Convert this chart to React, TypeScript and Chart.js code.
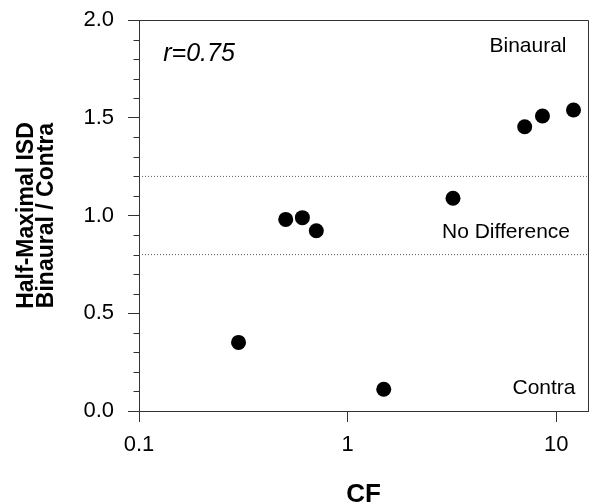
import React, { useEffect, useRef } from 'react';
import { Chart, registerables } from 'chart.js';

Chart.register(...registerables);

// ---- data ----
const cfValues = [0.3, 0.505, 0.607, 0.708, 1.49, 3.2, 7.06, 8.59, 12.1];
const ratioValues = [0.351, 0.98, 0.989, 0.922, 0.111, 1.088, 1.454, 1.509, 1.54];
const xTickValues = [0.1, 1, 10];
const xRange = [0.1, 14.2];
const yRange = [0, 2];
const yMajorStep = 0.5;
const yMinorStep = 0.1;
const thresholdLevels = [1.2, 0.8];
const regionLabels = ['Binaural', 'No Difference', 'Contra'];
const correlationLabel = 'r=0.75';
const xTitle = 'CF';
const yTitleLines = ['Half-Maximal ISD', 'Binaural / Contra'];

const FONT = "'Liberation Sans', Arial, Helvetica, sans-serif";
const AXIS_COLOR = '#333';

const zeroPadding = (scale: any) => {
  scale.paddingTop = 0;
  scale.paddingBottom = 0;
  scale.paddingLeft = 0;
  scale.paddingRight = 0;
};

const decorPlugin = {
  id: 'decor',
  afterDraw(chart: any) {
    const { ctx, chartArea } = chart;
    const ys = chart.scales.y;
    const { left, right, top, bottom } = chartArea;
    ctx.save();
    // top and right frame
    ctx.strokeStyle = AXIS_COLOR;
    ctx.lineWidth = 1;
    ctx.beginPath();
    ctx.moveTo(left, Math.round(top) + 0.5);
    ctx.lineTo(Math.round(right) + 0.5, Math.round(top) + 0.5);
    ctx.lineTo(Math.round(right) + 0.5, bottom);
    ctx.stroke();
    // minor y ticks
    const nMinor = Math.round((yRange[1] - yRange[0]) / yMinorStep);
    ctx.beginPath();
    for (let i = 1; i < nMinor; i++) {
      const v = yRange[0] + i * yMinorStep;
      if (Math.abs(v / yMajorStep - Math.round(v / yMajorStep)) < 1e-6) continue;
      const py = Math.round(ys.getPixelForValue(v)) + 0.5;
      ctx.moveTo(Math.round(left) + 0.5 - 6, py);
      ctx.lineTo(Math.round(left) + 0.5, py);
    }
    ctx.stroke();

    ctx.fillStyle = '#000';
    ctx.textAlign = 'center';
    ctx.textBaseline = 'alphabetic';
    ctx.font = `italic 25px ${FONT}`;
    ctx.fillText(correlationLabel, 199, 61);
    ctx.font = `21px ${FONT}`;
    ctx.fillText(regionLabels[0], 528, 52);
    ctx.fillText(regionLabels[1], 506, 237.5);
    ctx.fillText(regionLabels[2], 544, 394);
    ctx.font = `bold 26px ${FONT}`;
    ctx.fillText(xTitle, (left + right) / 2, 501.5);
    ctx.font = `bold 23px ${FONT}`;
    const cy = (top + bottom) / 2;
    const baseXs = [33, 53];
    yTitleLines.forEach((line, i) => {
      ctx.save();
      ctx.translate(baseXs[i], cy);
      ctx.rotate(-Math.PI / 2);
      ctx.fillText(line, 0, 0);
      ctx.restore();
    });
    ctx.restore();
  },
};

export default function App() {
  const canvasRef = useRef<HTMLCanvasElement | null>(null);

  useEffect(() => {
    if (!canvasRef.current) return;
    Chart.defaults.font.family = FONT;
    const points = cfValues.map((x, i) => ({ x, y: ratioValues[i] }));
    const thresholdSets = thresholdLevels.map((lvl) => ({
      type: 'line' as const,
      data: [
        { x: xRange[0], y: lvl },
        { x: xRange[1], y: lvl },
      ],
      borderColor: '#555',
      borderWidth: 1,
      borderDash: [1, 2],
      pointRadius: 0,
      fill: false,
    }));
    const chart = new Chart(canvasRef.current, {
      type: 'scatter',
      data: {
        datasets: [
          ...thresholdSets,
          {
            type: 'scatter' as const,
            data: points,
            backgroundColor: '#000',
            borderWidth: 0,
            pointRadius: 7.5,
            pointHoverRadius: 7.5,
          },
        ] as any,
      },
      options: {
        responsive: false,
        animation: false,
        events: [],
        layout: { autoPadding: false, padding: { left: 0, top: 20, right: 2, bottom: 0 } },
        plugins: {
          legend: { display: false },
          tooltip: { enabled: false },
        },
        scales: {
          x: {
            type: 'logarithmic',
            min: xRange[0],
            max: xRange[1],
            afterBuildTicks: (scale: any) => {
              scale.ticks = xTickValues.map((value) => ({ value }));
            },
            afterFit: (scale: any) => {
              scale.height = 93;
              zeroPadding(scale);
            },
            ticks: {
              autoSkip: false,
              maxRotation: 0,
              color: '#000',
              font: { size: 22, family: FONT },
              padding: 10,
              callback: (v: any) => String(v),
            },
            grid: {
              drawOnChartArea: false,
              drawTicks: true,
              tickLength: 11,
              color: AXIS_COLOR,
            },
            border: { display: true, color: AXIS_COLOR, width: 1 },
          },
          y: {
            type: 'linear',
            min: yRange[0],
            max: yRange[1],
            afterFit: (scale: any) => {
              scale.width = 139;
              zeroPadding(scale);
            },
            ticks: {
              stepSize: yMajorStep,
              color: '#000',
              font: { size: 22, family: FONT },
              padding: 14,
              callback: (v: any) => Number(v).toFixed(1),
            },
            grid: {
              drawOnChartArea: false,
              drawTicks: true,
              tickLength: 11,
              color: AXIS_COLOR,
            },
            border: { display: true, color: AXIS_COLOR, width: 1 },
          },
        },
      } as any,
      plugins: [decorPlugin],
    });
    return () => chart.destroy();
  }, []);

  return (
    <div style={{ position: 'fixed', left: 0, top: 0, width: 590, height: 504, background: '#fff' }}>
      <canvas ref={canvasRef} width={590} height={504} style={{ width: 590, height: 504 }} />
    </div>
  );
}
